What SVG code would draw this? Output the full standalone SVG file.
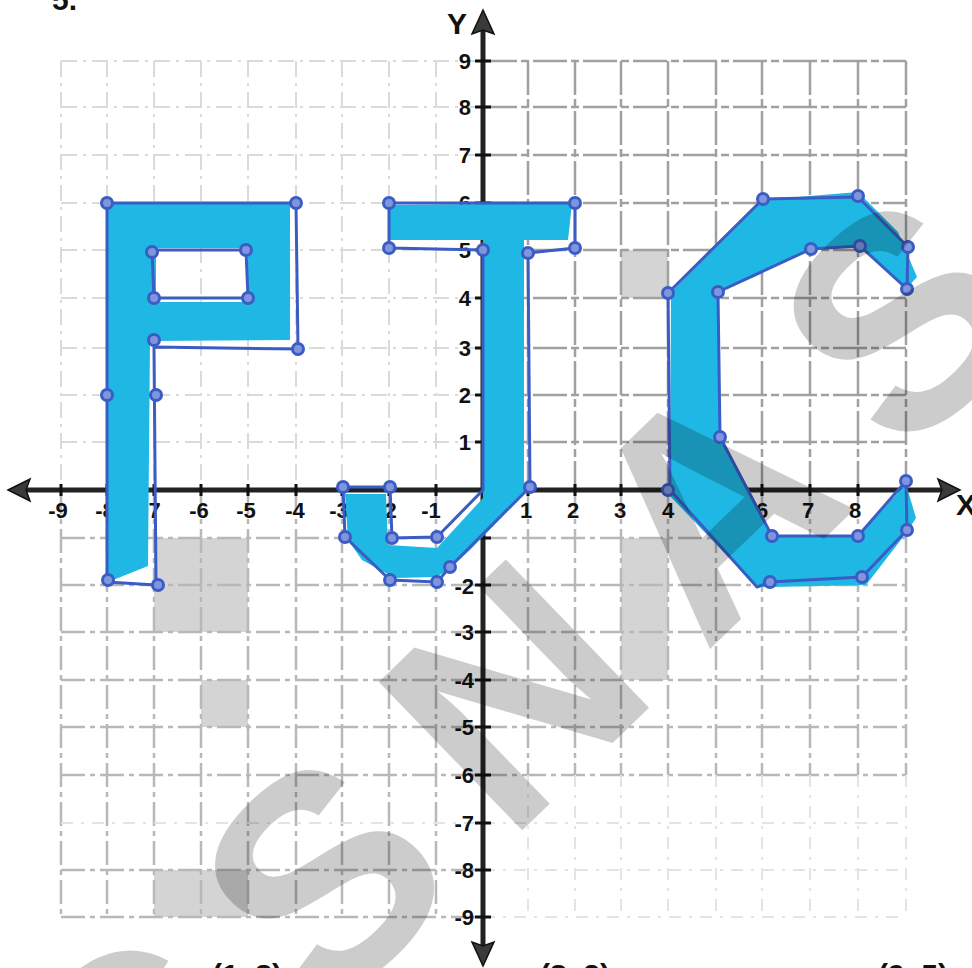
<svg xmlns="http://www.w3.org/2000/svg" width="972" height="968" viewBox="0 0 972 968">
<style>
.g1{stroke:#dadada;stroke-width:2;fill:none;stroke-dasharray:16 6 3 6}
.g2{stroke:#a0a0a0;stroke-width:2.5;fill:none;stroke-dasharray:34 4 8 4}
.g3{stroke:#b8b8b8;stroke-width:2.5;fill:none;stroke-dasharray:24 5 5 5}
.g4{stroke:#e4e4e4;stroke-width:2;fill:none;stroke-dasharray:12 8 3 8}
.shade{fill:#d4d4d4}
.axis{stroke:#222;stroke-width:5;fill:none}
.tick{stroke:#111;stroke-width:3}
.arrow{fill:#3a3a3a;stroke:#111;stroke-width:1.5}
.lbl{font-family:"Liberation Sans",Arial,sans-serif;font-weight:bold;font-size:22px;fill:#111}
.ylbl{font-family:"Liberation Sans",Arial,sans-serif;font-weight:bold;font-size:22px;fill:#111;text-anchor:end}
.fill{fill:#1fb7e3}
.edge{fill:none;stroke:#3b5cc4;stroke-width:3;stroke-linejoin:round}
.v{fill:#7f95dc;stroke:#3b5cc4;stroke-width:3}
.big{font-family:"Liberation Sans",Arial,sans-serif;font-weight:bold;font-size:30px;fill:#111}
.wm{font-family:"Liberation Sans",Arial,sans-serif;font-weight:bold;font-size:300px;fill:#000;fill-opacity:0.2;letter-spacing:57px}
</style>
<rect width="972" height="968" fill="#fff"/>
<g id="shaded-squares">
<rect class="shade" x="154" y="538" width="94" height="94"/>
<rect class="shade" x="201" y="680" width="47" height="47"/>
<rect class="shade" x="154" y="870" width="94" height="47"/>
<rect class="shade" x="621" y="250" width="47" height="48"/>
<rect class="shade" x="621" y="538" width="47" height="142"/>
</g>
<g id="grid">
<path class="g1" d="M61,61V490M107,61V490M154,61V490M201,61V490M248,61V490M296,61V490M342,61V490M389,61V490M436,61V490M61,61H483M61,107H483M61,155H483M61,203H483M61,250H483M61,298H483M61,348H483M61,395H483M61,442H483"/>
<path class="g2" d="M528,61V490M575,61V490M621,61V490M668,61V490M716,61V490M762,61V490M810,61V490M858,61V490M906,61V490M483,61H906M483,107H906M483,155H906M483,203H906M483,250H906M483,298H906M483,348H906M483,395H906M483,442H906"/>
<path class="g3" d="M61,490V917M107,490V917M154,490V917M201,490V917M248,490V917M296,490V917M342,490V917M389,490V917M436,490V917M61,538H483M61,585H483M61,632H483M61,680H483M61,727H483M61,775H483M61,870H483M61,917H483"/>
<path class="g4" d="M61,823H483"/>
<path class="g3" d="M528,490V775M575,490V775M621,490V775M668,490V775M716,490V775M762,490V775M810,490V775M858,490V775M906,490V775M483,538H906M483,585H906M483,632H906M483,680H906M483,727H906M483,775H906" />
<path class="g4" d="M528,775V917M575,775V917M621,775V917M668,775V917M716,775V917M762,775V917M810,775V917M858,775V917M906,775V917M483,823H906M483,870H906M483,917H906"/>
</g>
<g id="axes">
<path class="axis" d="M24,490H944M483,30V950"/>
<path class="arrow" d="M8,490L30,479L26,490L30,501Z"/>
<path class="arrow" d="M960,490L938,479L942,490L938,501Z"/>
<path class="arrow" d="M483,10L472,34L483,30L494,34Z"/>
<path class="arrow" d="M483,966L472,942L483,946L494,942Z"/>
<path class="tick" d="M61,484V496M107,484V496M154,484V496M201,484V496M248,484V496M296,484V496M342,484V496M389,484V496M436,484V496M528,484V496M575,484V496M621,484V496M668,484V496M716,484V496M762,484V496M810,484V496M858,484V496M906,484V496M475,61H491M475,107H491M475,155H491M475,203H491M475,250H491M475,298H491M475,348H491M475,395H491M475,442H491M475,538H491M475,585H491M475,632H491M475,680H491M475,727H491M475,775H491M475,823H491M475,870H491M475,917H491"/>
<text class="big" x="447" y="34">Y</text>
<text class="big" x="956" y="515">X</text>
</g>
<g id="x-labels" class="lbl" text-anchor="middle">
<text x="58" y="518">-9</text><text x="105" y="518">-8</text><text x="151" y="518">-7</text><text x="199" y="518">-6</text><text x="246" y="518">-5</text><text x="295" y="518">-4</text><text x="339" y="518">-3</text><text x="387" y="518">-2</text><text x="431" y="518">-1</text>
<text x="526" y="518">1</text><text x="573" y="518">2</text><text x="620" y="518">3</text><text x="668" y="518">4</text><text x="715" y="518">5</text><text x="762" y="518">6</text><text x="808" y="518">7</text><text x="855" y="518">8</text><text x="905" y="518">9</text>
</g>
<g id="y-labels">
<text class="ylbl" x="471" y="69">9</text><text class="ylbl" x="471" y="115">8</text><text class="ylbl" x="471" y="163">7</text><text class="ylbl" x="471" y="211">6</text><text class="ylbl" x="471" y="258">5</text><text class="ylbl" x="471" y="306">4</text><text class="ylbl" x="471" y="356">3</text><text class="ylbl" x="471" y="403">2</text><text class="ylbl" x="471" y="450">1</text>
<text class="ylbl" x="474" y="546">-1</text><text class="ylbl" x="474" y="594">-2</text><text class="ylbl" x="474" y="640">-3</text><text class="ylbl" x="474" y="688">-4</text><text class="ylbl" x="474" y="735">-5</text><text class="ylbl" x="474" y="783">-6</text><text class="ylbl" x="474" y="831">-7</text><text class="ylbl" x="474" y="878">-8</text><text class="ylbl" x="474" y="925">-9</text>
</g>
<g id="letter-P">
<path class="fill" fill-rule="evenodd" d="M107,204L290,204L290,340L150,341L148,566L108,582Z M156,248L248,248L248,302L156,302Z"/>
<path class="edge" d="M107,203L296,203L298,349L154,347L156,585L107,582Z M152,250L246,250L248,298L154,298Z"/>
<circle class="v" cx="107" cy="203" r="5.5"/><circle class="v" cx="296" cy="203" r="5.5"/><circle class="v" cx="298" cy="349" r="5.5"/><circle class="v" cx="154" cy="340" r="5.5"/><circle class="v" cx="107" cy="395" r="5.5"/><circle class="v" cx="156" cy="395" r="5.5"/><circle class="v" cx="108" cy="580" r="5.5"/><circle class="v" cx="158" cy="585" r="5.5"/><circle class="v" cx="152" cy="252" r="5.5"/><circle class="v" cx="246" cy="250" r="5.5"/><circle class="v" cx="154" cy="298" r="5.5"/><circle class="v" cx="248" cy="298" r="5.5"/>
</g>
<g id="letter-T">
<path class="fill" d="M389,205L572,203L568,240L524,240L524,482L528,490L470,550L450,568L437,577L395,578L362,560L348,540L345,494L386,494L388,545L437,548L483,498L483,240L389,240Z"/>
<path class="edge" d="M389,203L575,203L575,248L528,253L530,487L450,567L437,582L390,580L345,537L343,487L390,487L392,538L437,537L483,490L483,250L389,248Z"/>
<circle class="v" cx="389" cy="203" r="5.5"/><circle class="v" cx="389" cy="248" r="5.5"/><circle class="v" cx="575" cy="203" r="5.5"/><circle class="v" cx="575" cy="248" r="5.5"/><circle class="v" cx="528" cy="253" r="5.5"/><circle class="v" cx="483" cy="250" r="5.5"/><circle class="v" cx="530" cy="487" r="5.5"/><circle class="v" cx="343" cy="487" r="5.5"/><circle class="v" cx="390" cy="487" r="5.5"/><circle class="v" cx="345" cy="537" r="5.5"/><circle class="v" cx="392" cy="538" r="5.5"/><circle class="v" cx="437" cy="537" r="5.5"/><circle class="v" cx="390" cy="580" r="5.5"/><circle class="v" cx="437" cy="582" r="5.5"/><circle class="v" cx="450" cy="567" r="5.5"/>
</g>
<g id="letter-C">
<path class="fill" d="M671,292L762,200L858,192L898,232L917,277L906,289L860,246L811,250L718,292L720,437L772,536L858,536L906,484L916,518L907,532L866,585L770,587L757,587L670,496Z"/>
<path class="edge" d="M668,293L763,199L858,197L908,247L907,289L860,246L811,249L718,292L720,437L772,536L858,536L906,481L907,530L862,577L770,582L757,587L670,490Z"/>
<circle class="v" cx="668" cy="293" r="5.5"/><circle class="v" cx="763" cy="199" r="5.5"/><circle class="v" cx="858" cy="196" r="5.5"/><circle class="v" cx="908" cy="247" r="5.5"/><circle class="v" cx="907" cy="289" r="5.5"/><circle class="v" cx="860" cy="246" r="5.5"/><circle class="v" cx="811" cy="249" r="5.5"/><circle class="v" cx="718" cy="292" r="5.5"/><circle class="v" cx="720" cy="437" r="5.5"/><circle class="v" cx="772" cy="536" r="5.5"/><circle class="v" cx="858" cy="536" r="5.5"/><circle class="v" cx="906" cy="481" r="5.5"/><circle class="v" cx="907" cy="530" r="5.5"/><circle class="v" cx="862" cy="577" r="5.5"/><circle class="v" cx="770" cy="582" r="5.5"/><circle class="v" cx="668" cy="490" r="5.5"/>
</g>
<g id="captions">
<text class="big" x="52" y="10">5.</text>
<text class="big" x="212" y="985">(1, 8)</text>
<text class="big" x="540" y="985">(8, 2)</text>
<text class="big" x="878" y="985">(9, 5)</text>
</g>
<g id="watermark">
<text class="wm" transform="translate(126,1213) rotate(-44)">CSNAS</text>
</g>
</svg>
